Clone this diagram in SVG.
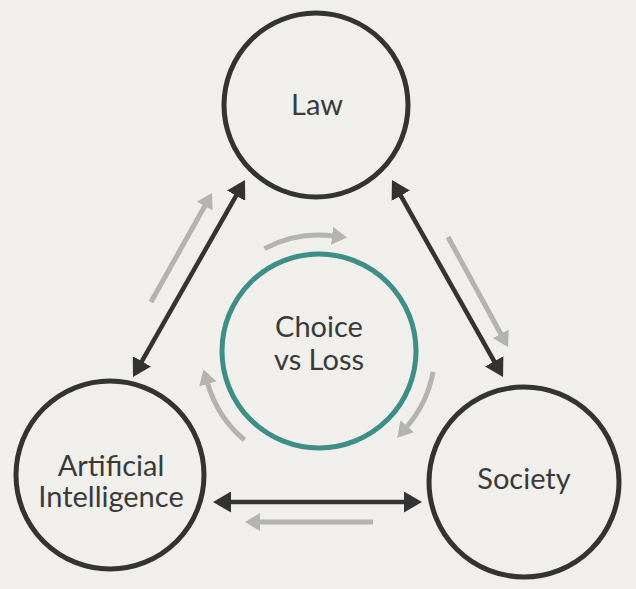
<svg xmlns="http://www.w3.org/2000/svg" width="636" height="589" viewBox="0 0 636 589">
<defs>
<style>
.node{fill:none;stroke:#333333;stroke-width:5}
.center{fill:none;stroke:#3d8e85;stroke-width:5}
.lbl{font-family:Lato,"Open Sans","Liberation Sans",sans-serif;font-size:29px;fill:#3a3a3a;text-anchor:middle}
.dark{stroke:#333333;stroke-width:4.5;fill:none}
.gray{stroke:#b3b3b1;stroke-width:5;fill:none}
</style>
<marker id="hd" viewBox="0 0 18 21" refX="1" refY="10.5" markerWidth="18" markerHeight="21" markerUnits="userSpaceOnUse" orient="auto-start-reverse">
<path d="M0,0 L18,10.5 L0,21 z" fill="#333333"/>
</marker>
<marker id="hg" viewBox="0 0 15 18" refX="1" refY="9" markerWidth="15" markerHeight="18" markerUnits="userSpaceOnUse" orient="auto">
<path d="M0,0 L15,9 L0,18 z" fill="#b3b3b1"/>
</marker>
</defs>
<rect width="636" height="589" fill="#f0efeb"/>
<g id="connectors">
<line class="dark" x1="141.4" y1="362.2" x2="236.6" y2="194.8" marker-start="url(#hd)" marker-end="url(#hd)"/>
<line class="dark" x1="400.3" y1="194.8" x2="494.7" y2="362.2" marker-start="url(#hd)" marker-end="url(#hd)"/>
<line class="dark" x1="230" y1="502" x2="405" y2="502" marker-start="url(#hd)" marker-end="url(#hd)"/>
<line class="gray" x1="151" y1="302" x2="205.2" y2="205.2" marker-end="url(#hg)"/>
<line class="gray" x1="448" y1="237" x2="501.3" y2="334.7" marker-end="url(#hg)"/>
<line class="gray" x1="373" y1="522" x2="259" y2="522" marker-end="url(#hg)"/>
<path class="gray" d="M264.5,248.6 A116,116 0 0 1 333.1,235.9" marker-end="url(#hg)"/>
<path class="gray" d="M433.1,371.9 A116,116 0 0 1 406.5,427.1" marker-end="url(#hg)"/>
<path class="gray" d="M244.4,439.9 A116,116 0 0 1 207.5,383.0" marker-end="url(#hg)"/>
</g>
<g id="law">
<circle class="node" cx="316" cy="105" r="92"/>
<text class="lbl" x="317" y="115">Law</text>
</g>
<g id="ai">
<circle class="node" cx="110" cy="475" r="94"/>
<text class="lbl" x="111" y="476">Artificial</text>
<text class="lbl" x="111" y="507">Intelligence</text>
</g>
<g id="society">
<circle class="node" cx="524" cy="482" r="95"/>
<text class="lbl" x="524" y="489">Society</text>
</g>
<g id="choice">
<circle class="center" cx="319" cy="351" r="97"/>
<text class="lbl" x="319" y="337">Choice</text>
<text class="lbl" x="319" y="370">vs Loss</text>
</g>
</svg>
